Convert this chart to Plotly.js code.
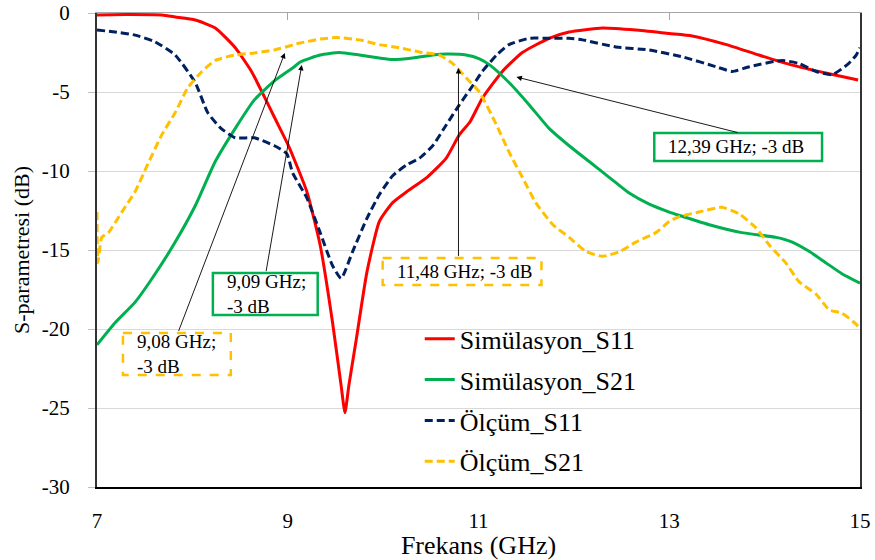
<!DOCTYPE html>
<html>
<head>
<meta charset="utf-8">
<script src="https://cdn.plot.ly/plotly-3.0.1.min.js"></script>
<style>html,body{margin:0;padding:0;background:#fff;}#chart{width:875px;height:560px;}</style>
</head>
<body>
<div id="chart"></div>
<script>
// ---- Data ----
const seriesNames = ["Simülasyon_S11", "Simülasyon_S21", "Ölçüm_S11", "Ölçüm_S21"];

const simS11_x = [7.0, 7.3, 7.68, 7.82, 8.03, 8.24, 8.45, 8.62, 8.73, 8.86, 9.0, 9.05, 9.2, 9.34, 9.47, 9.56, 9.60, 9.64, 9.72, 9.83, 9.96, 10.1, 10.25, 10.46, 10.66, 10.8, 10.91, 11.04, 11.25, 11.46, 11.74, 11.95, 12.3, 12.65, 13.0, 13.24, 13.6, 13.94, 14.29, 14.64, 14.98];
const simS11_y = [-0.13, -0.1, -0.13, -0.25, -0.44, -0.95, -2.2, -3.7, -5.0, -6.6, -8.3, -9.0, -11.3, -14.7, -19.6, -23.6, -25.3, -23.6, -20.6, -16.4, -13.2, -12.0, -11.3, -10.4, -9.2, -7.7, -6.9, -5.4, -3.7, -2.5, -1.6, -1.2, -0.95, -1.08, -1.3, -1.45, -2.0, -2.66, -3.3, -3.8, -4.24];

const simS21_x = [7.0, 7.19, 7.4, 7.6, 7.82, 8.03, 8.24, 8.45, 8.65, 8.86, 9.07, 9.13, 9.34, 9.54, 9.75, 9.96, 10.1, 10.31, 10.52, 10.66, 10.87, 11.01, 11.12, 11.32, 11.53, 11.74, 11.95, 12.16, 12.37, 12.58, 12.79, 13.0, 13.1, 13.42, 13.76, 14.12, 14.29, 14.47, 14.64, 14.81, 15.0];
const simS21_y = [-21.0, -19.6, -18.3, -16.6, -14.5, -12.2, -9.4, -7.3, -5.5, -4.3, -3.4, -3.1, -2.66, -2.5, -2.66, -2.85, -2.95, -2.85, -2.66, -2.6, -2.66, -2.9, -3.3, -4.4, -5.8, -7.3, -8.4, -9.4, -10.4, -11.4, -12.1, -12.6, -12.8, -13.4, -13.9, -14.2, -14.5, -15.1, -15.8, -16.5, -17.1];

const measS11_x = [7.0, 7.19, 7.4, 7.6, 7.82, 8.03, 8.16, 8.3, 8.45, 8.65, 8.86, 8.99, 9.05, 9.2, 9.34, 9.47, 9.56, 9.68, 9.83, 9.96, 10.1, 10.25, 10.38, 10.52, 10.66, 10.8, 10.94, 11.04, 11.19, 11.32, 11.53, 11.74, 11.95, 12.09, 12.44, 12.79, 13.14, 13.49, 13.66, 13.84, 14.18, 14.36, 14.54, 14.71, 14.88, 14.96, 15.0];
const measS11_y = [-1.08, -1.2, -1.4, -1.8, -2.66, -4.4, -6.3, -7.3, -7.9, -7.9, -8.4, -8.9, -10.1, -11.7, -13.9, -16.0, -16.8, -15.1, -13.0, -11.5, -10.3, -9.6, -9.2, -8.4, -7.1, -5.8, -4.6, -3.7, -2.66, -2.0, -1.6, -1.6, -1.6, -1.7, -2.15, -2.34, -2.78, -3.4, -3.7, -3.4, -3.0, -3.2, -3.7, -3.9, -3.2, -2.66, -2.2];

const measS21_x = [7.0, 7.01, 7.05, 7.12, 7.26, 7.4, 7.53, 7.68, 7.82, 7.95, 8.1, 8.24, 8.45, 8.65, 8.86, 9.07, 9.13, 9.34, 9.51, 9.75, 9.96, 10.17, 10.38, 10.59, 10.73, 10.87, 11.01, 11.19, 11.32, 11.46, 11.6, 11.78, 11.95, 12.13, 12.3, 12.48, 12.65, 12.86, 13.0, 13.1, 13.31, 13.55, 13.73, 13.91, 14.05, 14.22, 14.36, 14.54, 14.68, 14.81, 14.96, 15.0];
const measS21_y = [-12.6, -15.8, -14.2, -13.9, -12.6, -11.3, -9.6, -7.7, -6.3, -4.75, -3.7, -3.0, -2.66, -2.53, -2.34, -2.0, -1.9, -1.65, -1.55, -1.7, -2.0, -2.2, -2.47, -2.66, -3.2, -4.1, -5.0, -7.1, -8.8, -10.4, -12.0, -13.4, -14.2, -15.1, -15.4, -15.1, -14.5, -13.9, -13.2, -12.9, -12.6, -12.3, -12.7, -13.6, -14.7, -15.8, -17.0, -17.8, -18.8, -19.0, -19.7, -20.0];

const xTickVals = [7, 9, 11, 13, 15];
const xTickText = ["7", "9", "11", "13", "15"];
const yTickVals = [0, -5, -10, -15, -20, -25, -30];
const yTickText = ["0", "-5", "-10", "-15", "-20", "-25", "-30"];

const markerLabels = ["9,08 GHz;<br>-3 dB", "9,09 GHz;<br>-3 dB", "11,48 GHz; -3 dB", "12,39 GHz; -3 dB"];

// ---- Styles / layout ----
const FONT = "Liberation Serif";
const colors = ["#FF0000", "#00B050", "#002060", "#FFC000"];
const dashes = ["solid", "solid", "8px,4px", "8px,4px"];
const xs = [simS11_x, simS21_x, measS11_x, measS21_x];
const ys = [simS11_y, simS21_y, measS11_y, measS21_y];

const traces = seriesNames.map((n, i) => ({
  type: "scatter", mode: "lines", name: n, x: xs[i], y: ys[i],
  line: {color: colors[i], width: 3, dash: dashes[i], shape: "spline", smoothing: 0.5},
  legendgroup: "g" + i
}));

const boxes = [
  {x0: 7.272, x1: 8.403, y0: -20.25, y1: -22.91, c: "#FFC000", dash: "dash"},
  {x0: 8.215, x1: 9.314, y0: -16.46, y1: -19.11, c: "#00B050", dash: "solid"},
  {x0: 9.995, x1: 11.66, y0: -15.51, y1: -17.22, c: "#FFC000", dash: "dash"},
  {x0: 12.843, x1: 14.602, y0: -7.59, y1: -9.37, c: "#00B050", dash: "solid"}
];
const textPos = [[7.40, -21.58], [8.34, -17.78], [10.12, -16.39], [12.97, -8.48]];
const arrows = [
  {hx: 8.969, hy: -2.53, tx: 7.848, ty: -20.25},
  {hx: 9.147, hy: -3.29, tx: 8.770, ty: -16.46},
  {hx: 10.79, hy: -3.48, tx: 10.79, ty: -15.51},
  {hx: 11.398, hy: -4.05, tx: 13.733, ty: -7.59}
];

const shapes = boxes.map(b => ({
  type: "rect", xref: "x", yref: "y", x0: b.x0, x1: b.x1, y0: b.y0, y1: b.y1,
  line: {color: b.c, width: 2.5, dash: b.dash}, fillcolor: "rgba(0,0,0,0)", layer: "above"
}));

const annotations = [];
markerLabels.forEach((t, i) => {
  annotations.push({
    x: textPos[i][0], y: textPos[i][1], xref: "x", yref: "y", text: t, showarrow: false,
    xanchor: "left", yanchor: "middle", align: "left",
    font: {family: FONT, size: 19, color: "#000"}
  });
});
arrows.forEach(a => {
  annotations.push({
    x: a.hx, y: a.hy, ax: a.tx, ay: a.ty, xref: "x", yref: "y", axref: "x", ayref: "y",
    text: " ", font: {size: 1}, showarrow: true, arrowhead: 2, arrowsize: 1.2, arrowwidth: 0.9,
    arrowcolor: "#000", standoff: 0, startstandoff: 0
  });
});

const layout = {
  width: 875, height: 560,
  margin: {l: 97, r: 15, t: 13, b: 73},
  paper_bgcolor: "#fff", plot_bgcolor: "#fff",
  font: {family: FONT, color: "#000"},
  showlegend: true,
  legend: {
    x: 0.423, y: 0.362, xanchor: "left", yanchor: "top",
    bgcolor: "rgba(0,0,0,0)", borderwidth: 0,
    font: {family: FONT, size: 26, color: "#000"},
    traceorder: "grouped", tracegroupgap: 4, itemwidth: 30
  },
  xaxis: {
    range: [7, 15], tickvals: xTickVals, ticktext: xTickText,
    showgrid: false, zeroline: false,
    showline: true, linecolor: "#000", linewidth: 2,
    ticks: "", ticklabelstandoff: 14,
    tickfont: {family: FONT, size: 21, color: "#000"},
    title: {text: "Frekans (GHz)", font: {family: FONT, size: 26, color: "#000"}, standoff: 2}
  },
  xaxis2: {
    range: [7, 15], overlaying: "x", side: "top", tickvals: xTickVals,
    showticklabels: false, showgrid: false, zeroline: false,
    showline: true, linecolor: "#a6a6a6", linewidth: 1.5,
    ticks: "inside", ticklen: 7, tickcolor: "#a6a6a6"
  },
  yaxis: {
    range: [-30, 0], tickvals: yTickVals, ticktext: yTickText,
    showgrid: true, gridcolor: "#d9d9d9", gridwidth: 1, zeroline: false,
    showline: true, linecolor: "#333", linewidth: 2, mirror: true,
    ticks: "outside", ticklen: 7, tickcolor: "#bfbfbf", ticklabelstandoff: 14,
    tickfont: {family: FONT, size: 21, color: "#000"},
    title: {text: "S-parametresi (dB)", font: {family: FONT, size: 22, color: "#000"}, standoff: 6}
  },
  shapes: shapes,
  annotations: annotations
};

traces.push({type: "scatter", mode: "lines", x: [7, 15], y: [0, 0], xaxis: "x2", yaxis: "y",
  line: {color: "rgba(0,0,0,0)", width: 0}, showlegend: false, hoverinfo: "skip"});

Plotly.newPlot("chart", traces, layout, {displayModeBar: false, staticPlot: true});
</script>
</body>
</html>
